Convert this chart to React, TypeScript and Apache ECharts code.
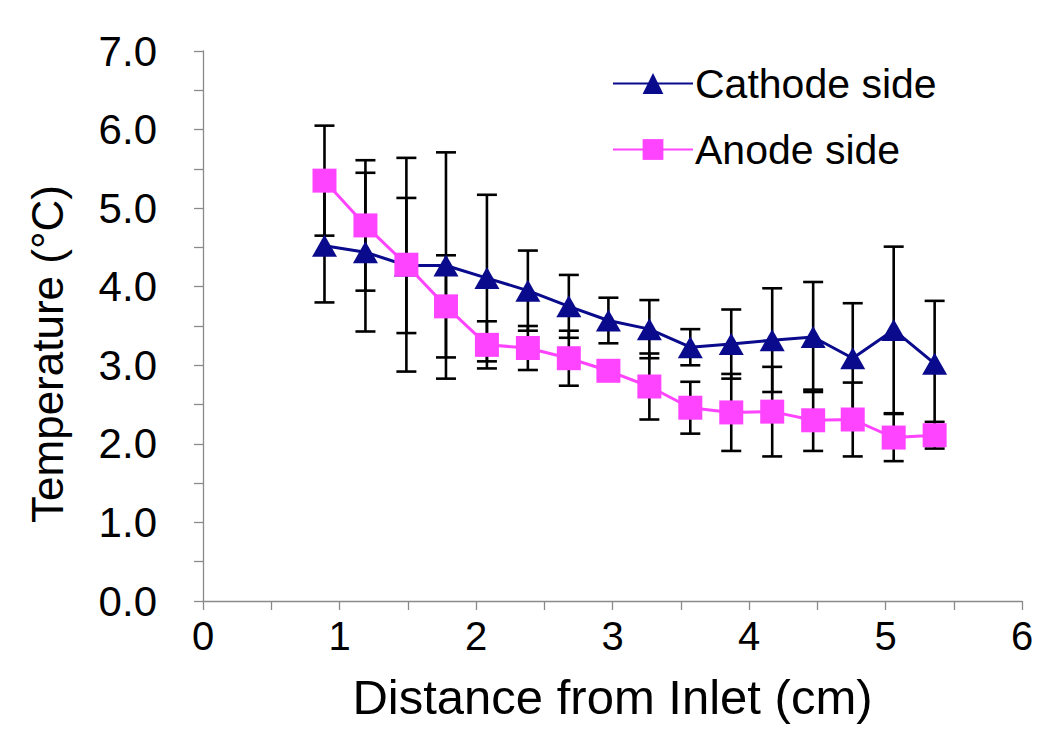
import React, { useEffect, useRef } from "react";
import * as echarts from "echarts";

const xValues = [0.89, 1.19, 1.49, 1.78, 2.08, 2.38, 2.68, 2.97, 3.27, 3.57, 3.87, 4.17, 4.47, 4.76, 5.06, 5.36];
const cathodeMean = [4.52, 4.44, 4.27, 4.27, 4.11, 3.95, 3.75, 3.57, 3.46, 3.23, 3.27, 3.32, 3.36, 3.09, 3.45, 3.02];
const cathodeErr = [0.72, 1.01, 0.86, 1.44, 1.06, 0.51, 0.40, 0.29, 0.37, 0.23, 0.44, 0.66, 0.70, 0.70, 1.06, 0.80];
const anodeMean = [5.35, 4.78, 4.28, 3.75, 3.26, 3.22, 3.09, 2.93, 2.73, 2.46, 2.40, 2.41, 2.30, 2.31, 2.08, 2.11];
const anodeErr = [0.70, 0.83, 1.36, 0.65, 0.30, 0.28, 0.35, 0.12, 0.42, 0.33, 0.49, 0.57, 0.39, 0.47, 0.30, 0.17];

const seriesNames = ["Cathode side", "Anode side"];
const xTitle = "Distance from Inlet (cm)";
const yTitle = "Temperature (°C)";

const FONT = "'Liberation Sans', Arial, Helvetica, sans-serif";
const CATHODE_COLOR = "#0A0A8C";
const ANODE_COLOR = "#FF44FF";
const AXIS_COLOR = "#8a8a8a";

function errorSeries(mean: number[], err: number[]) {
  return {
    type: "custom",
    silent: true,
    z: 1,
    encode: { x: 0, y: [1, 2] },
    data: xValues.map((x, i) => [x, mean[i] - err[i], mean[i] + err[i]]),
    renderItem: (params: any, api: any) => {
      const x = api.value(0);
      const lo = api.coord([x, api.value(1)]);
      const hi = api.coord([x, api.value(2)]);
      const half = 10;
      const style = { stroke: "#000", lineWidth: 2.6 };
      return {
        type: "group",
        children: [
          { type: "line", shape: { x1: hi[0], y1: hi[1], x2: lo[0], y2: lo[1] }, style },
          { type: "line", shape: { x1: hi[0] - half, y1: hi[1], x2: hi[0] + half, y2: hi[1] }, style },
          { type: "line", shape: { x1: lo[0] - half, y1: lo[1], x2: lo[0] + half, y2: lo[1] }, style },
        ],
      };
    },
  };
}

export default function App() {
  const ref = useRef<HTMLDivElement>(null);
  useEffect(() => {
    if (!ref.current) return;
    const chart = echarts.init(ref.current, undefined, { renderer: "svg" });
    const axisCommon = {
      type: "value",
      axisLine: { show: true, lineStyle: { color: AXIS_COLOR, width: 1.3 } },
      axisTick: { show: true, length: 9, lineStyle: { color: AXIS_COLOR, width: 1.3 } },
      minorTick: { show: true, splitNumber: 2, length: 9, lineStyle: { color: AXIS_COLOR, width: 1.3 } },
      splitLine: { show: false },
    };
    chart.setOption({
      animation: false,
      backgroundColor: "#ffffff",
      textStyle: { fontFamily: FONT },
      grid: { left: 203, right: 28, top: 51, bottom: 147, containLabel: false },
      legend: {
        orient: "vertical",
        left: 607,
        top: 56,
        itemWidth: 80,
        itemHeight: 26,
        itemGap: 21,
        data: seriesNames,
        textStyle: { fontSize: 41, color: "#000", fontFamily: FONT, lineHeight: 45, padding: [0, 0, 0, -3] },
      },
      xAxis: {
        ...axisCommon,
        min: 0,
        max: 6,
        interval: 1,
        axisLabel: { fontSize: 40, color: "#000", margin: 15, fontFamily: FONT },
        name: xTitle,
        nameLocation: "middle",
        nameGap: 71,
        nameTextStyle: { fontSize: 49, color: "#000", fontFamily: FONT },
      },
      yAxis: {
        ...axisCommon,
        min: 0,
        max: 7,
        interval: 1,
        axisLabel: {
          fontSize: 42,
          color: "#000",
          margin: 46,
          fontFamily: FONT,
          formatter: (v: number) => v.toFixed(1),
        },
        name: yTitle,
        nameLocation: "middle",
        nameGap: 134,
        nameRotate: 90,
        nameTextStyle: { fontSize: 44, color: "#000", fontFamily: FONT, padding: [0, 56, 0, 0] },
      },
      series: [
        errorSeries(cathodeMean, cathodeErr),
        errorSeries(anodeMean, anodeErr),
        {
          name: seriesNames[0],
          type: "line",
          z: 3,
          data: xValues.map((x, i) => [x, cathodeMean[i]]),
          symbol: "triangle",
          symbolSize: [25, 22],
          lineStyle: { color: CATHODE_COLOR, width: 3 },
          itemStyle: { color: CATHODE_COLOR },
        },
        {
          name: seriesNames[1],
          type: "line",
          z: 4,
          data: xValues.map((x, i) => [x, anodeMean[i]]),
          symbol: "rect",
          symbolSize: 24,
          lineStyle: { color: ANODE_COLOR, width: 3 },
          itemStyle: { color: ANODE_COLOR },
        },
      ],
    });
    return () => chart.dispose();
  }, []);
  return (
    <div
      ref={ref}
      style={{ position: "fixed", left: 0, top: 0, width: 1050, height: 748, background: "#fff" }}
    />
  );
}
